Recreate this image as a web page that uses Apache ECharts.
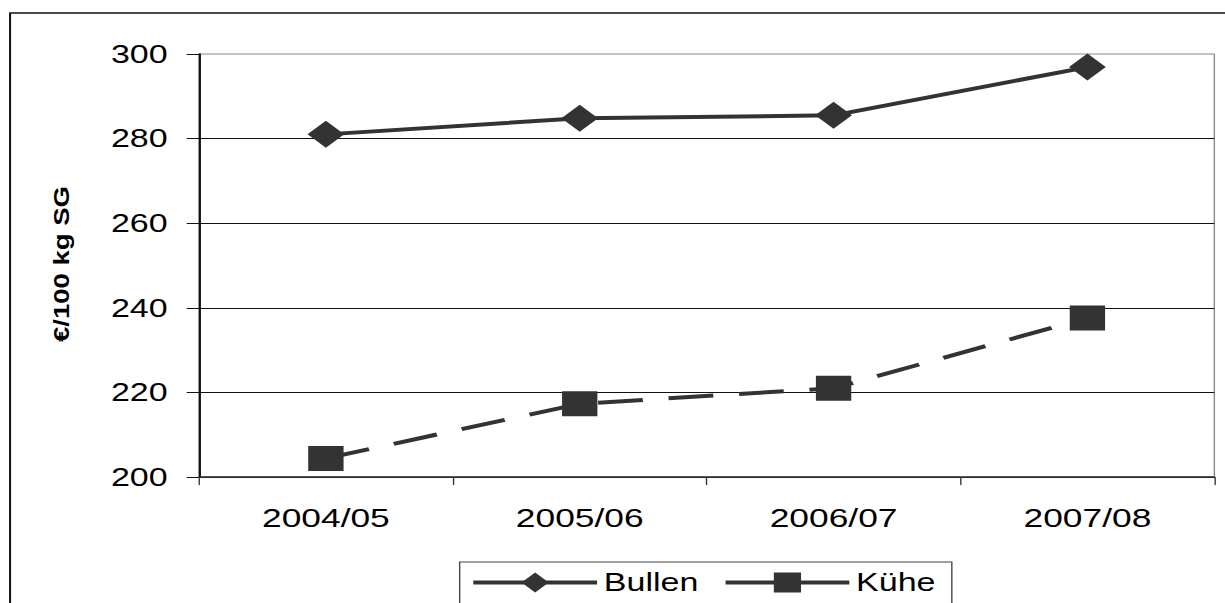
<!DOCTYPE html>
<html>
<head>
<meta charset="utf-8">
<script src="https://cdn.jsdelivr.net/npm/echarts@6/dist/echarts.min.js"></script>
<style>
  html, body { margin: 0; padding: 0; background: #fff; overflow: hidden; }
  #wrap { width: 1225px; height: 603px; overflow: hidden; }
  #c { width: 901px; height: 603px; transform: scaleX(1.36); transform-origin: 0 0; }
</style>
</head>
<body>
<div id="wrap"><div id="c"></div></div>
<script>
const categories = ['2004/05', '2005/06', '2006/07', '2007/08'];
const bullen = [281.0, 284.8, 285.5, 296.9];
const kuehe = [204.4, 217.3, 221.0, 237.6];
const yAxisTitle = '€/100 kg SG';
const seriesNames = ['Bullen', 'Kühe'];

const FONT = "'Liberation Sans', Arial, sans-serif";
const chart = echarts.init(document.getElementById('c'), null, { renderer: 'svg' });

chart.setOption({
  animation: false,
  backgroundColor: '#fff',
  grid: {
    left: 146.3, right: 8.1, top: 54, bottom: 126,
    show: true, borderColor: '#888', borderWidth: 1, backgroundColor: 'transparent'
  },
  graphic: [
    {
      type: 'rect', z: -1, silent: true,
      shape: { x: 7.4, y: 13, width: 1200, height: 800 },
      style: { fill: 'none', stroke: '#111', lineWidth: 1.5 }
    },
    {
      type: 'text', silent: true,
      x: 45, y: 264, rotation: Math.PI / 2, scaleX: 1.72,
      style: {
        text: yAxisTitle, font: 'bold 16px ' + FONT, fill: '#000',
        textAlign: 'center', textVerticalAlign: 'middle'
      }
    }
  ],
  legend: {
    left: 338, top: 562,
    padding: [8, 12, 40, 8],
    itemGap: 18,
    itemWidth: 91, itemHeight: 25,
    borderColor: '#444', borderWidth: 1,
    textStyle: { fontSize: 25, fontFamily: FONT, color: '#000' },
    data: [
      { name: seriesNames[0], lineStyle: { type: 'solid', width: 4 } },
      { name: seriesNames[1], lineStyle: { type: 'solid', width: 4 } }
    ]
  },
  xAxis: {
    type: 'category',
    data: categories,
    boundaryGap: true,
    axisLine: { lineStyle: { color: '#333', width: 1.5 } },
    axisTick: { show: true, length: 8, inside: false, lineStyle: { color: '#333' } },
    axisLabel: { fontSize: 26, fontFamily: FONT, color: '#000', margin: 28 },
    splitLine: { show: false }
  },
  yAxis: {
    type: 'value',
    min: 200, max: 300, interval: 20,
    axisLine: { show: true, lineStyle: { color: '#111', width: 1.5 } },
    axisTick: { show: true, length: 9, lineStyle: { color: '#111' } },
    axisLabel: { fontSize: 25, fontFamily: FONT, color: '#000', margin: 23 },
    splitLine: { show: true, showMaxLine: false, lineStyle: { color: '#111', width: 1 } }
  },
  series: [
    {
      name: seriesNames[0], type: 'line', data: bullen,
      symbol: 'diamond', symbolSize: [27, 27],
      lineStyle: { color: '#333', width: 4 },
      itemStyle: { color: '#333' }
    },
    {
      name: seriesNames[1], type: 'line', data: kuehe,
      symbol: 'rect', symbolSize: [26, 25],
      lineStyle: { color: '#333', width: 4, type: [33, 19] },
      itemStyle: { color: '#333' }
    }
  ]
});
</script>
</body>
</html>
